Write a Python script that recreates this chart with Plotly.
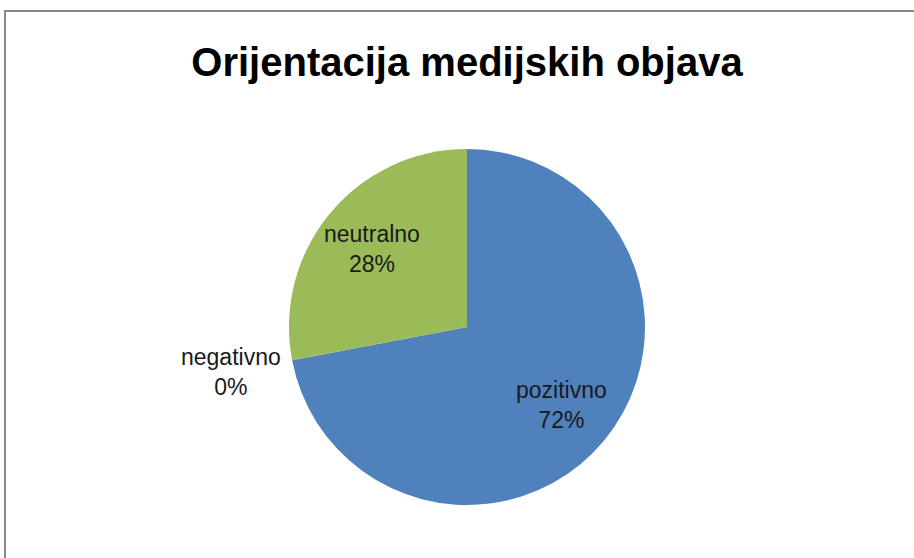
import math
import plotly.graph_objects as go

labels = ["pozitivno", "negativno", "neutralno"]
values = [72, 0, 28]
colors = ["#4F81BD", "#C0504D", "#9BBB59"]
title_text = "Orijentacija medijskih objava"

W, H = 914, 558
# pie placement (pixels)
CX, CY, R = 467, 327, 178
INSIDE_F, OUTSIDE_F = 0.69, 1.35
FONT = "Liberation Sans, Arial, sans-serif"

fig = go.Figure(go.Pie(
    labels=labels,
    values=values,
    sort=False,
    direction="clockwise",
    rotation=0,
    marker=dict(colors=colors, line=dict(width=0)),
    textinfo="none",
    showlegend=False,
    hoverinfo="label+percent",
    domain=dict(x=[(CX - R) / W, (CX + R) / W], y=[(H - CY - R) / H, (H - CY + R) / H]),
    automargin=False,
))

# data labels at the mid-angle of each slice
total = sum(values)
annotations = []
cum = 0.0
for lab, v in zip(labels, values):
    frac = v / total
    mid = (cum + frac / 2) * 2 * math.pi  # clockwise from 12 o'clock
    cum += frac
    f = INSIDE_F if v > 0 else OUTSIDE_F
    px = CX + f * R * math.sin(mid)
    py = CY - f * R * math.cos(mid)
    annotations.append(dict(
        x=px / W, y=1 - py / H, xref="paper", yref="paper",
        text=f"{lab}<br>{round(frac * 100)}%", showarrow=False,
        xanchor="center", yanchor="middle", align="center",
        font=dict(family=FONT, size=23, color="#1a1a1a"),
    ))

fig.update_layout(
    width=W, height=H,
    margin=dict(l=0, r=0, t=0, b=0),
    paper_bgcolor="white",
    plot_bgcolor="white",
    title=dict(
        text="<b>" + title_text + "</b>",
        x=467 / W, xanchor="center",
        y=1 - 62 / H, yanchor="middle",
        font=dict(family=FONT, size=40, color="black"),
    ),
    annotations=annotations,
    shapes=[dict(
        type="rect", xref="paper", yref="paper",
        x0=5 / W, x1=1.05, y0=-0.05, y1=1 - 11 / H,
        line=dict(color="#878787", width=2),
        fillcolor="rgba(0,0,0,0)",
    )],
)

fig.write_html(
    "out.html",
    config={"displayModeBar": False},
    post_script="document.body.style.margin='0';document.body.style.overflow='hidden';",
)
